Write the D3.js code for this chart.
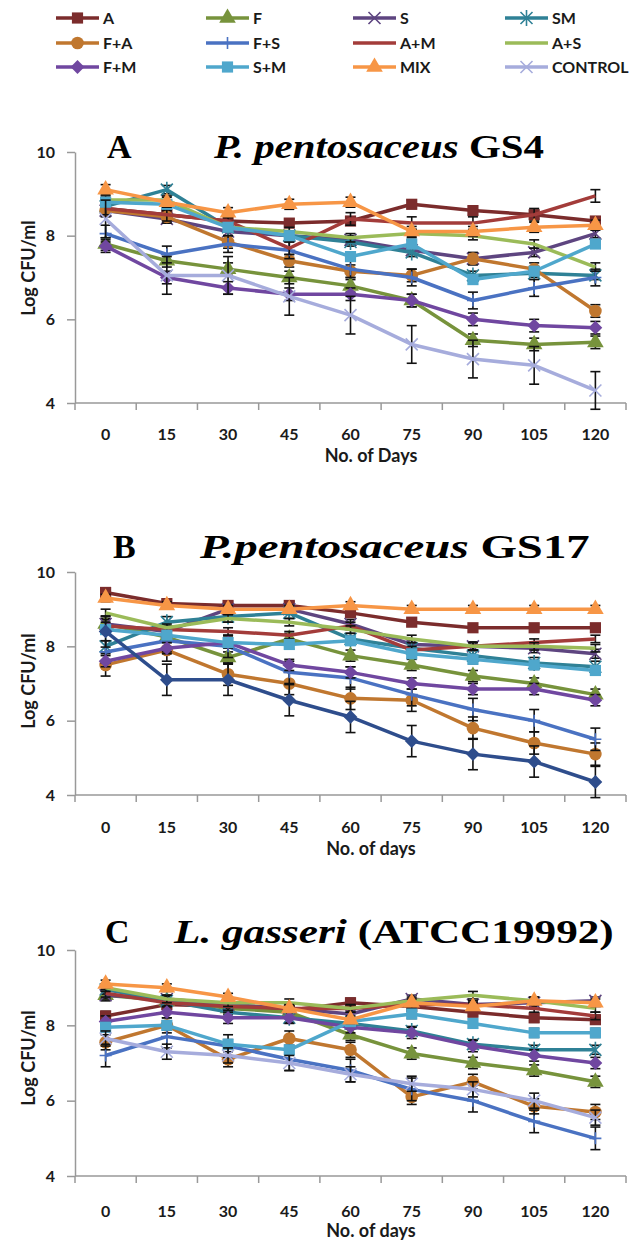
<!DOCTYPE html>
<html>
<head>
<meta charset="utf-8">
<script src="https://cdn.jsdelivr.net/npm/d3@7"></script>
<style>
  body { margin: 0; background: #fff; }
  svg { display: block; }
</style>
</head>
<body>
<script>
const days = [0, 15, 30, 45, 60, 75, 90, 105, 120]
const seriesNames = ['A', 'F', 'S', 'SM', 'F+A', 'F+S', 'A+M', 'A+S', 'F+M', 'S+M', 'MIX', 'CONTROL']
const yTicks = [4, 6, 8, 10]

// rows follow seriesNames order
const gs4 = [
  [8.65, 8.5, 8.35, 8.3, 8.35, 8.75, 8.6, 8.5, 8.35],
  [7.8, 7.4, 7.2, 7.0, 6.8, 6.45, 5.5, 5.4, 5.45],
  [8.6, 8.4, 8.1, 8.0, 7.9, 7.65, 7.45, 7.6, 8.05],
  [8.7, 9.1, 8.2, 8.0, 7.85, 7.6, 7.05, 7.1, 7.05],
  [8.6, 8.45, 7.85, 7.4, 7.15, 7.05, 7.45, 7.2, 6.2],
  [8.05, 7.55, 7.8, 7.65, 7.2, 7.0, 6.45, 6.75, 7.0],
  [8.65, 8.5, 8.35, 7.7, 8.4, 8.3, 8.3, 8.5, 8.95],
  [8.85, 8.85, 8.2, 8.1, 7.95, 8.05, 8.0, 7.8, 7.25],
  [7.75, 7.0, 6.75, 6.6, 6.6, 6.45, 6.0, 5.85, 5.8],
  [8.8, 8.75, 8.2, 8.0, 7.5, 7.8, 6.95, 7.15, 7.8],
  [9.1, 8.8, 8.55, 8.75, 8.8, 8.1, 8.1, 8.2, 8.25],
  [8.4, 7.05, 7.05, 6.55, 6.1, 5.4, 5.05, 4.9, 4.3]
]
const gs4Err = [0.1, 0.15, 0.1, 0.1, 0.15, 0.2, 0.15, 0.1, 0.15, 0.1, 0.12, 0.45]

const gs17 = [
  [9.45, 9.15, 9.1, 9.1, 8.9, 8.65, 8.5, 8.5, 8.5],
  [8.6, 8.25, 7.7, 8.2, 7.75, 7.5, 7.2, 7.0, 6.7],
  [8.6, 8.4, 9.0, 9.0, 8.6, 8.05, 8.0, 7.95, 7.8],
  [8.0, 8.65, 8.8, 8.9, 8.2, 7.95, 7.75, 7.55, 7.45],
  [7.5, 7.9, 7.25, 7.0, 6.6, 6.55, 5.8, 5.4, 5.1],
  [7.85, 8.15, 8.0, 7.3, 7.15, 6.7, 6.3, 6.0, 5.5],
  [8.55, 8.45, 8.4, 8.3, 8.55, 7.9, 8.0, 8.1, 8.2],
  [8.9, 8.5, 8.75, 8.65, 8.45, 8.2, 8.0, 8.0, 7.95],
  [7.6, 7.95, 8.1, 7.5, 7.3, 7.0, 6.85, 6.85, 6.55],
  [8.45, 8.3, 8.1, 8.05, 8.15, 7.8, 7.65, 7.5, 7.35],
  [9.3, 9.1, 9.0, 9.0, 9.1, 9.0, 9.0, 9.0, 9.0],
  [8.4, 7.1, 7.1, 6.55, 6.1, 5.45, 5.1, 4.9, 4.35]
]
const gs17Err = [0.1, 0.15, 0.12, 0.15, 0.3, 0.3, 0.1, 0.1, 0.15, 0.12, 0.1, 0.42]

const atcc = [
  [8.25, 8.55, 8.5, 8.4, 8.6, 8.5, 8.35, 8.2, 8.15],
  [8.8, 8.65, 8.45, 8.35, 7.75, 7.25, 7.0, 6.8, 6.5],
  [8.8, 8.7, 8.55, 8.45, 8.3, 8.7, 8.55, 8.6, 8.65],
  [8.95, 8.65, 8.35, 8.2, 8.05, 7.85, 7.5, 7.35, 7.35],
  [7.55, 8.0, 7.1, 7.65, 7.35, 6.1, 6.5, 5.85, 5.7],
  [7.2, 7.7, 7.45, 7.1, 6.8, 6.3, 6.0, 5.45, 5.0],
  [8.85, 8.6, 8.5, 8.45, 8.45, 8.55, 8.55, 8.45, 8.25],
  [9.0, 8.7, 8.6, 8.6, 8.45, 8.65, 8.8, 8.65, 8.45],
  [8.1, 8.35, 8.2, 8.2, 7.95, 7.8, 7.45, 7.2, 7.0],
  [7.95, 8.0, 7.5, 7.35, 8.1, 8.3, 8.05, 7.8, 7.8],
  [9.1, 9.0, 8.75, 8.45, 8.15, 8.6, 8.5, 8.65, 8.6],
  [7.65, 7.3, 7.2, 7.0, 6.7, 6.45, 6.3, 6.0, 5.55]
]
const atccErr = [0.12, 0.15, 0.1, 0.12, 0.2, 0.3, 0.1, 0.1, 0.15, 0.12, 0.1, 0.2]

// styles
const colors = ['#7b2c2c', '#77933c', '#5e4580', '#2f8196', '#c0772f', '#4a72c2',
  '#a33c3a', '#9bbb59', '#7047a0', '#4fa7cc', '#f79646', '#a6acdc']
const markers = ['square', 'triangle', 'x', 'star', 'circle', 'plus',
  'none', 'none', 'diamond', 'square', 'triangle', 'x']

const W = 633, H = 1241
const left = 75, right = 626
const sans = 'Lato, "Open Sans", sans-serif'
const serif = '"Liberation Serif", "DejaVu Serif", serif'

const panels = [
  {letter: 'A', organism: 'P. pentosaceus', strain: 'GS4', xTitle: 'No. of Days',
    values: gs4, err: gs4Err, top: 152, bottom: 403, titleBase: 158, letterX: 107,
    nameX: 214, nameW: 330, tickBase: 440, xTitleBase: 462, yTitleY: 268},
  {letter: 'B', organism: 'P.pentosaceus', strain: 'GS17', xTitle: 'No. of days',
    values: gs17, err: gs17Err, top: 572, bottom: 795, titleBase: 558, letterX: 113,
    nameX: 200, nameW: 390, tickBase: 833, xTitleBase: 855, yTitleY: 681,
    override: {11: {color: '#2e4d8c', marker: 'diamond'}}},
  {letter: 'C', organism: 'L. gasseri', strain: '(ATCC19992)', xTitle: 'No. of days',
    values: atcc, err: atccErr, top: 950, bottom: 1176, titleBase: 943, letterX: 105,
    nameX: 174, nameW: 440, tickBase: 1217, xTitleBase: 1237, yTitleY: 1058}
]

const svg = d3.select('body').append('svg')
  .attr('width', W)
  .attr('height', H)

function drawMarker(g, type, color, x, y) {
  if (type === 'none') return
  const filled = {square: [d3.symbolSquare, 125], triangle: [d3.symbolTriangle, 120],
    circle: [d3.symbolCircle, 125], diamond: [d3.symbolSquare, 95]}
  if (filled[type]) {
    g.append('path')
      .attr('d', d3.symbol(filled[type][0], filled[type][1])())
      .attr('transform', `translate(${x},${y})` + (type === 'diamond' ? ' rotate(45)' : ''))
      .attr('fill', color)
  } else {
    const d = {plus: 'M-6,0H6M0,-6V6', x: 'M-6,-6L6,6M-6,6L6,-6',
      star: 'M-6,-6L6,6M-6,6L6,-6M0,-8V8'}[type]
    g.append('path')
      .attr('d', d)
      .attr('transform', `translate(${x},${y})`)
      .attr('stroke', color)
      .attr('stroke-width', 1.6)
      .attr('fill', 'none')
  }
}

// legend
const legendCols = [56, 206, 353, 505]
const legendRows = [18, 43, 67]
seriesNames.forEach((name, i) => {
  const x0 = legendCols[i % 4], y0 = legendRows[Math.floor(i / 4)]
  const g = svg.append('g')
  g.append('line')
    .attr('x1', x0).attr('x2', x0 + 43)
    .attr('y1', y0).attr('y2', y0)
    .attr('stroke', colors[i])
    .attr('stroke-width', 3.5)
  drawMarker(g, markers[i], colors[i], x0 + 21.5, y0)
  g.append('text')
    .attr('x', x0 + 47).attr('y', y0 + 6)
    .attr('font-family', sans)
    .attr('font-size', 16)
    .attr('font-weight', 700)
    .attr('fill', '#1a1a1a')
    .text(name)
})

panels.forEach(p => {
  const x = d3.scaleBand().domain(days).range([left, right]).padding(0)
  const cx = d => x(d) + x.bandwidth() / 2
  const y = d3.scaleLinear().domain([4, 10]).range([p.bottom, p.top])
  const g = svg.append('g')

  // title
  g.append('text')
    .attr('x', p.letterX).attr('y', p.titleBase)
    .attr('font-family', serif)
    .attr('font-size', 34)
    .attr('font-weight', 700)
    .text(p.letter)
  const tg = g.append('g')
  const tt = tg.append('text')
    .attr('font-family', serif)
    .attr('font-size', 34)
    .attr('font-weight', 700)
  tt.append('tspan').attr('font-style', 'italic').text(p.organism)
  tt.append('tspan').text(' ' + p.strain)
  const tw = tt.node().getComputedTextLength()
  tg.attr('transform', `translate(${p.nameX},${p.titleBase}) scale(${p.nameW / tw},1)`)

  // y axis
  const yAxis = d3.axisLeft(y).tickValues(yTicks).tickFormat(d3.format('d'))
    .tickSize(8).tickSizeOuter(0).tickPadding(12)
  const ya = g.append('g')
    .attr('transform', `translate(${left},0)`)
    .call(yAxis)
  ya.select('.domain').attr('stroke', '#999').attr('stroke-width', 1.5)
  ya.selectAll('.tick line').attr('stroke', '#999').attr('stroke-width', 1.5)
  ya.selectAll('.tick text')
    .attr('font-family', sans)
    .attr('font-size', 16)
    .attr('font-weight', 700)
    .attr('fill', '#1a1a1a')

  g.append('text')
    .attr('transform', `translate(35,${p.yTitleY}) rotate(-90)`)
    .attr('text-anchor', 'middle')
    .attr('font-family', sans)
    .attr('font-size', 18)
    .attr('font-weight', 700)
    .attr('fill', '#1a1a1a')
    .text('Log CFU/ml')

  // x axis
  g.append('line')
    .attr('x1', left).attr('x2', right)
    .attr('y1', p.bottom).attr('y2', p.bottom)
    .attr('stroke', '#999').attr('stroke-width', 1.5)
  g.selectAll('.xtick').data(days.concat(['end'])).enter().append('line')
    .attr('class', 'xtick')
    .attr('x1', d => d === 'end' ? right : x(d))
    .attr('x2', d => d === 'end' ? right : x(d))
    .attr('y1', p.bottom).attr('y2', p.bottom + 7)
    .attr('stroke', '#999').attr('stroke-width', 1.5)
  g.selectAll('.xlab').data(days).enter().append('text')
    .attr('class', 'xlab')
    .attr('x', cx)
    .attr('y', p.tickBase)
    .attr('text-anchor', 'middle')
    .attr('font-family', sans)
    .attr('font-size', 16)
    .attr('font-weight', 700)
    .attr('fill', '#1a1a1a')
    .text(d => d)
  g.append('text')
    .attr('x', 371).attr('y', p.xTitleBase)
    .attr('text-anchor', 'middle')
    .attr('font-family', sans)
    .attr('font-size', 18)
    .attr('font-weight', 700)
    .attr('fill', '#1a1a1a')
    .text(p.xTitle)

  // series
  const line = d3.line().x((d, i) => cx(days[i])).y(d => y(d))
  p.values.forEach((vals, si) => {
    const ov = (p.override && p.override[si]) || {}
    const color = ov.color || colors[si]
    const mk = ov.marker || markers[si]
    const e = p.err[si]
    const sg = g.append('g')
    const eb = sg.selectAll('.err').data(vals).enter().append('g')
    eb.append('line')
      .attr('x1', (d, i) => cx(days[i])).attr('x2', (d, i) => cx(days[i]))
      .attr('y1', d => y(d - e)).attr('y2', d => y(d + e))
    eb.append('line')
      .attr('x1', (d, i) => cx(days[i]) - 5).attr('x2', (d, i) => cx(days[i]) + 5)
      .attr('y1', d => y(d + e)).attr('y2', d => y(d + e))
    eb.append('line')
      .attr('x1', (d, i) => cx(days[i]) - 5).attr('x2', (d, i) => cx(days[i]) + 5)
      .attr('y1', d => y(d - e)).attr('y2', d => y(d - e))
    eb.selectAll('line').attr('stroke', '#111').attr('stroke-width', 1.6)
    sg.append('path')
      .datum(vals)
      .attr('d', line)
      .attr('fill', 'none')
      .attr('stroke', color)
      .attr('stroke-width', 3.5)
      .attr('stroke-linejoin', 'round')
    sg.selectAll('.pt').data(vals).enter().append('g')
      .attr('class', 'pt')
      .each(function (d, i) { drawMarker(d3.select(this), mk, color, cx(days[i]), y(d)) })
  })
})
</script>
</body>
</html>
